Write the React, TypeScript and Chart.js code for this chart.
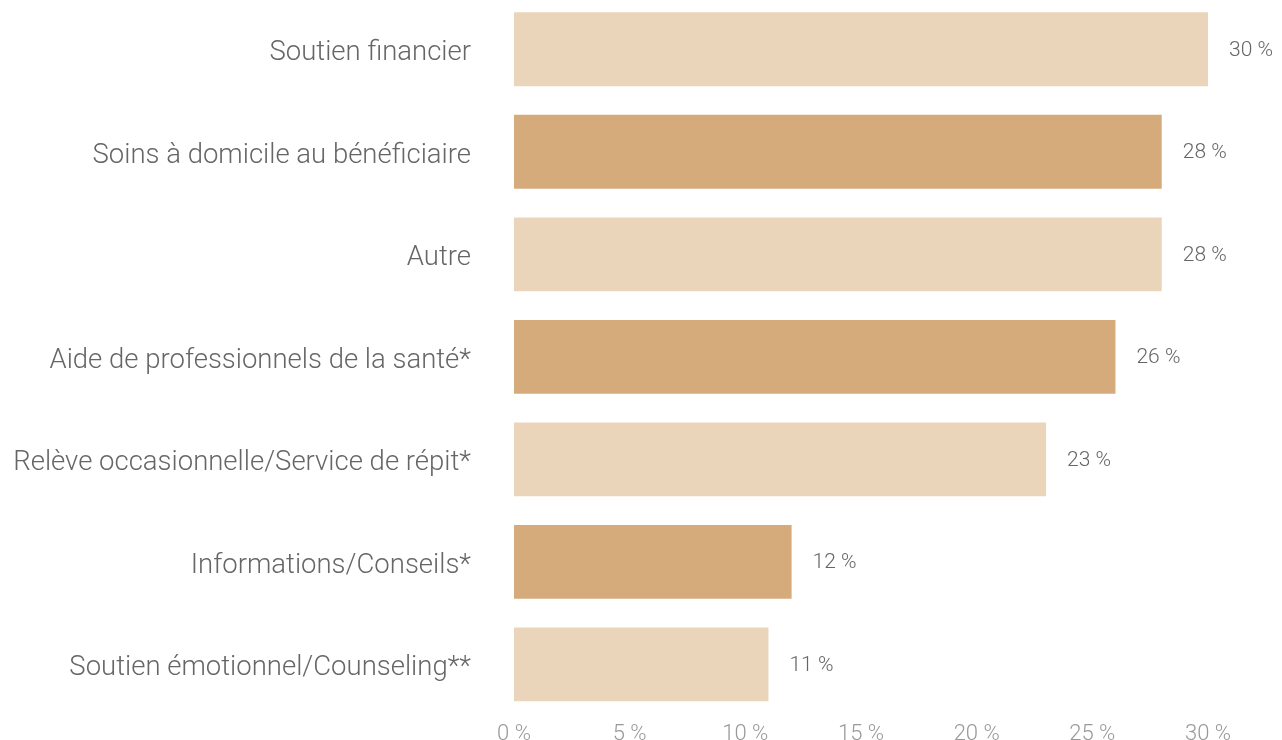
import React, { useEffect, useRef } from "react";
import { Chart, registerables } from "chart.js";

Chart.register(...registerables);

const categories = [
  "Soutien financier",
  "Soins à domicile au bénéficiaire",
  "Autre",
  "Aide de professionnels de la santé*",
  "Relève occasionnelle/Service de répit*",
  "Informations/Conseils*",
  "Soutien émotionnel/Counseling**",
];
const values = [30, 28, 28, 26, 23, 12, 11];
const valueLabels = ["30 %", "28 %", "28 %", "26 %", "23 %", "12 %", "11 %"];
const xTicks = [0, 5, 10, 15, 20, 25, 30];

const LIGHT = "#EBD5BA";
const DARK = "#D6AB7C";
const FONT = "Roboto, 'Liberation Sans', sans-serif";

const valueLabelPlugin = {
  id: "valueLabels",
  afterDatasetsDraw(chart: any) {
    const ctx = chart.ctx;
    const meta = chart.getDatasetMeta(0);
    ctx.save();
    ctx.font = `300 21px ${FONT}`;
    ctx.fillStyle = "#666666";
    ctx.textAlign = "left";
    ctx.textBaseline = "middle";
    meta.data.forEach((bar: any, i: number) => {
      ctx.fillText(valueLabels[i], bar.x + 21, bar.y + 1);
    });
    ctx.restore();
  },
};

export default function App() {
  const ref = useRef<HTMLCanvasElement>(null);
  useEffect(() => {
    if (!ref.current) return;
    const chart = new Chart(ref.current, {
      type: "bar",
      data: {
        labels: categories,
        datasets: [
          {
            data: values,
            backgroundColor: values.map((_, i) => (i % 2 === 0 ? LIGHT : DARK)),
            borderWidth: 0,
            categoryPercentage: 1,
            barPercentage: 0.72,
          },
        ],
      },
      options: {
        indexAxis: "y",
        animation: false,
        responsive: false,
        maintainAspectRatio: false,
        layout: { padding: { left: 0, right: 74, top: 0, bottom: 0 } },
        plugins: { legend: { display: false }, tooltip: { enabled: false } },
        scales: {
          x: {
            min: 0,
            max: 30,
            grid: { display: false, drawTicks: false },
            border: { display: false },
            afterBuildTicks(scale: any) {
              scale.ticks = xTicks.map((v) => ({ value: v }));
            },
            ticks: {
              padding: 6,
              color: "#999999",
              font: { family: FONT, size: 22, weight: "300" },
              callback: (v: any) => `${v} %`,
            },
          },
          y: {
            grid: { display: false, drawTicks: false },
            border: { display: false },
            afterFit(scale: any) {
              scale.width = 514;
              scale.paddingTop = 0;
              scale.paddingBottom = 0;
            },
            ticks: {
              padding: 43,
              labelOffset: 4,
              color: "#666666",
              font: { family: FONT, size: 27.5, weight: "300" },
            },
          },
        },
      },
      plugins: [valueLabelPlugin],
    });
    return () => chart.destroy();
  }, []);
  return (
    <div style={{ position: "fixed", left: 0, top: -2, width: 1282, height: 756 }}>
      <canvas ref={ref} width={1282} height={756} style={{ display: "block" }} />
    </div>
  );
}
